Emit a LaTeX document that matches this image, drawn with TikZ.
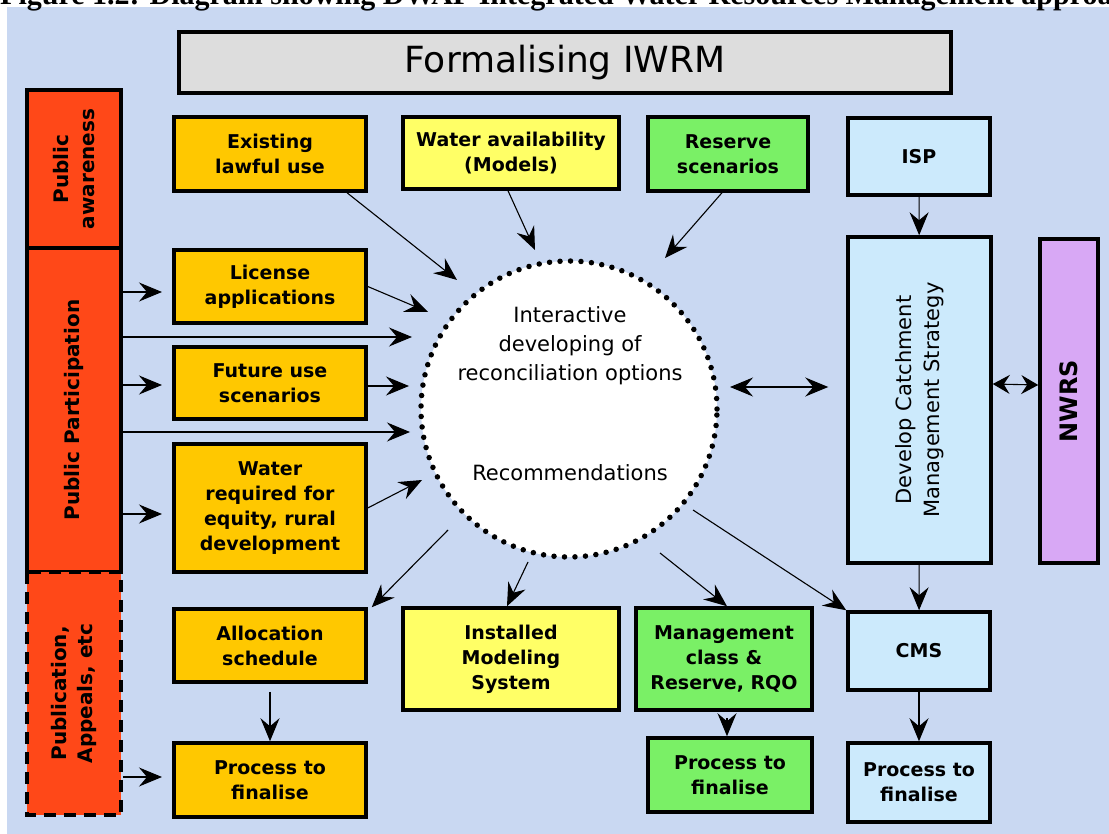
\documentclass[tikz,border=0pt]{standalone}
\usepackage{fontspec}
\setmainfont{DejaVu Sans}
\newfontfamily\capfont{Liberation Serif}
\usetikzlibrary{arrows.meta,calc}
\definecolor{bgc}{HTML}{C9D8F2}
\definecolor{orng}{HTML}{FFC800}
\definecolor{redc}{HTML}{FF4818}
\definecolor{yelc}{HTML}{FFFF66}
\definecolor{grnc}{HTML}{7AF066}
\definecolor{bluc}{HTML}{CCEAFC}
\definecolor{purc}{HTML}{D8A8F5}
\definecolor{grayc}{HTML}{DDDDDD}
\tikzset{
  box/.style={draw=black, line width=3.5pt, inner sep=0pt, align=center,
    font=\bfseries\fontsize{19}{25}\selectfont},
  obox/.style={box, fill=orng},
  ybox/.style={box, fill=yelc},
  gbox/.style={box, fill=grnc},
  bbox/.style={box, fill=bluc},
  rbox/.style={box, fill=redc, font=\bfseries\fontsize{20}{26}\selectfont},
  arr/.style={-{Stealth[length=23pt,width=19pt,inset=8pt]}, line width=1.1pt},
  darr/.style={{Stealth[length=23pt,width=19pt,inset=8pt]}-{Stealth[length=23pt,width=19pt,inset=8pt]}, line width=1.1pt},
  sdarr/.style={{Stealth[length=17pt,width=19pt,inset=6pt]}-{Stealth[length=17pt,width=19pt,inset=6pt]}, line width=1.1pt},
}
\begin{document}
\begin{tikzpicture}[x=1pt,y=-1pt]
\useasboundingbox (0,0) rectangle (1109,834);
\clip (0,0) rectangle (1109,834);
\fill[bgc] (7,7) rectangle (1109,834);
\node[anchor=base west, inner sep=0pt, font=\capfont\bfseries\fontsize{30}{30}\selectfont] (cap) at (0,5)
  {Figure 1.2: Diagram showing DWAF Integrated Water Resources Management approach};

% title
\node[box, fill=grayc, minimum width=772pt, minimum height=61pt, font=\fontsize{36}{40}\selectfont] (title) at (565,62.5) {Formalising IWRM};

% left column (rotated: .south is the page-right side)
\node[rbox, minimum width=158pt, minimum height=94pt, rotate=90] (pubaw) at (74,169) {Public\\awareness};
\node[rbox, minimum width=324pt, minimum height=94pt, rotate=90] (pubpart) at (74,410) {Public Participation};
\node[rbox, minimum width=243pt, minimum height=94pt, rotate=90, dash pattern=on 12pt off 8pt] (publ) at (74,693.5) {Publication,\\Appeals, etc};

% orange boxes
\node[obox, minimum width=192pt, minimum height=74pt] (exist) at (270,154) {Existing\\lawful use};
\node[obox, minimum width=192pt, minimum height=73pt] (license) at (270,286.5) {License\\applications};
\node[obox, minimum width=192pt, minimum height=72pt] (future) at (270,383) {Future use\\scenarios};
\node[obox, minimum width=192pt, minimum height=128pt] (wreq) at (270,508) {Water\\required for\\equity, rural\\development};
\node[obox, minimum width=192pt, minimum height=73pt] (alloc) at (270,645.5) {Allocation\\schedule};
\node[obox, minimum width=192pt, minimum height=74pt] (procL) at (270,780) {Process to\\finalise};

% top row
\node[ybox, minimum width=216pt, minimum height=72pt] (wavail) at (511,153) {Water availability\\(Models)};
\node[gbox, minimum width=160pt, minimum height=74pt] (reserve) at (728,154) {Reserve\\scenarios};
\node[bbox, minimum width=142pt, minimum height=77pt] (isp) at (919,156.5) {ISP};

% right column
\node[bbox, minimum width=326pt, minimum height=143pt, rotate=90, font=\fontsize{21}{28}\selectfont] (dcms) at (919.5,400) {Develop Catchment\\Management Strategy};
\node[box, fill=purc, minimum width=324pt, minimum height=58pt, rotate=90, font=\bfseries\fontsize{24}{28}\selectfont] (nwrs) at (1069,401) {NWRS};

% bottom row
\node[ybox, minimum width=216pt, minimum height=102pt] (installed) at (511,659) {Installed\\Modeling\\System};
\node[gbox, minimum width=176pt, minimum height=102pt] (mgmt) at (724,659) {Management\\class \&\\Reserve, RQO};
\node[bbox, minimum width=142pt, minimum height=78pt] (cms) at (919,651) {CMS};
\node[gbox, minimum width=164pt, minimum height=74pt] (procG) at (730,775) {Process to\\finalise};
\node[bbox, minimum width=142pt, minimum height=79pt] (procB) at (919,782.5) {Process to\\finalise};

% circle
\node[circle, fill=white, draw=black, line width=5.5pt, dash pattern=on 0pt off 10.5pt, line cap=round,
  minimum size=296pt, inner sep=0pt] (circ) at (569,409) {};
\node[align=center, font=\fontsize{21}{29}\selectfont, inner sep=0pt] (ctext) at (570,346)
  {Interactive\\developing of\\reconciliation options};
\node[font=\fontsize{21}{29}\selectfont, inner sep=0pt] (rec) at (570,473) {Recommendations};

% arrow tip coordinates
\coordinate (t1) at (457,280);
\coordinate (t2) at (535,250);
\coordinate (t3) at (665,258);
\coordinate (t4) at (428,312);
\coordinate (t5) at (412,337);
\coordinate (t6) at (409,386);
\coordinate (t7) at (410,432);
\coordinate (t8) at (422,480);
\coordinate (s1) at (448,530);
\coordinate (s2) at (528,562);
\coordinate (s3) at (660,553);
\coordinate (s4) at (693,510);
\coordinate (s5) at (730,387);
\coordinate (l1) at (162,292);
\coordinate (l2) at (162,385);
\coordinate (l3) at (162,514);
\coordinate (l4) at (162,777);

% into circle
\draw[arr] ([xshift=77pt]exist.south) -- (t1);
\draw[arr] ([xshift=-3pt]wavail.south) -- (t2);
\draw[arr] ([xshift=-6pt]reserve.south) -- (t3);
\draw[arr] (license.east) -- (t4);
\draw[arr] (pubpart.south |- t5) -- (t5);
\draw[arr] (future.east |- t6) -- (t6);
\draw[arr] (pubpart.south |- t7) -- (t7);
\draw[arr] (wreq.east) -- (t8);

% out of circle
\draw[arr] (s1) -- ([xshift=4pt]alloc.north east);
\draw[arr] (s2) -- ([xshift=-4pt]installed.north);
\draw[arr] (s3) -- ([xshift=3pt]mgmt.north);
\draw[arr] (s4) -- (cms.north west);
\draw[darr, shorten >=18pt] (s5) -- (dcms.north |- s5);
\draw[sdarr] ([yshift=16pt]dcms.south) -- ([yshift=16pt]nwrs.north);

% verticals
\draw[arr] (isp) -- (dcms);
\draw[arr] (dcms) -- (cms);
\draw[arr] ($(alloc.south)+(0,8)$) -- (procL.north);
\draw[arr] ($(procG.north |- mgmt.south)+(-3,6)$) -- ([xshift=-3pt]procG.north);
\draw[arr] (cms) -- (procB);

% left arrows
\draw[arr] (pubpart.south |- l1) -- (l1);
\draw[arr] (pubpart.south |- l2) -- (l2);
\draw[arr] (pubpart.south |- l3) -- (l3);
\draw[arr] (publ.south |- l4) -- (l4);
\end{tikzpicture}
\end{document}
